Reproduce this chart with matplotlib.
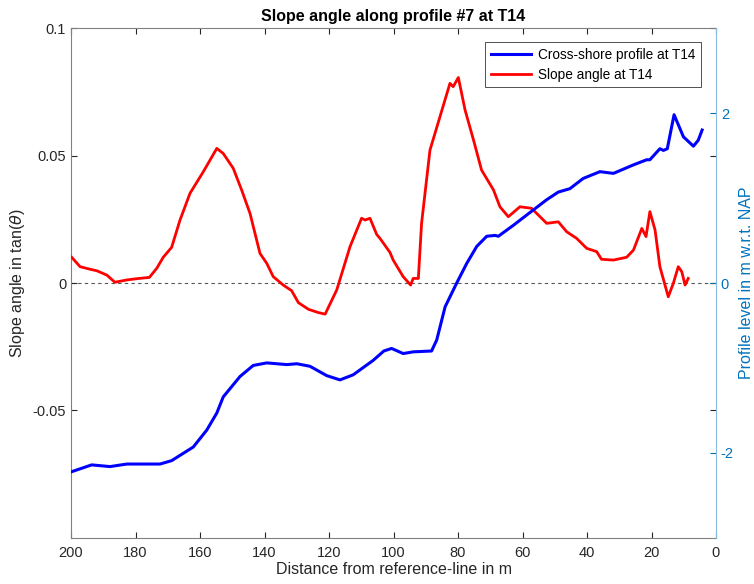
import matplotlib
matplotlib.use("Agg")
import matplotlib.pyplot as plt
import numpy as np

plt.rcParams['font.family'] = ['Liberation Sans', 'DejaVu Sans']
plt.rcParams['axes.unicode_minus'] = False

# Slope angle (left axis)
slope_x = [199.8, 197.2, 194.1, 192.0, 188.9, 186.4, 182.7, 179.6, 175.7, 173.4, 171.4, 168.8,
           166.2, 163.1, 159.0, 154.8, 152.8, 149.7, 147.1, 144.5, 141.4, 139.3, 137.3, 134.2,
           131.6, 129.5, 126.4, 123.3, 121.2, 117.6, 113.5, 109.9, 108.8, 107.3, 105.2, 104.2,
           101.1, 100.1, 97.0, 94.7, 93.9, 92.3, 91.3, 88.7, 85.6, 82.5, 81.5, 79.9, 77.8, 75.2,
           72.7, 69.0, 67.0, 64.4, 60.8, 57.2, 52.5, 48.9, 46.3, 43.2, 40.1, 37.0, 35.5, 31.8,
           27.7, 25.6, 23.0, 21.7, 20.5, 18.9, 17.4, 14.8, 13.2, 11.7, 10.6, 9.6, 8.6]
slope_y = [0.0101, 0.0064, 0.0054, 0.0048, 0.0031, 0.0003, 0.0012, 0.0017, 0.0022, 0.0058, 0.0101, 0.0140,
           0.0247, 0.0352, 0.0436, 0.0528, 0.0508, 0.0450, 0.0365, 0.0273, 0.0116, 0.0077, 0.0025, -0.0008,
           -0.0030, -0.0077, -0.0103, -0.0116, -0.0122, -0.0027, 0.0142, 0.0254, 0.0247, 0.0254, 0.0190, 0.0175,
           0.0120, 0.0090, 0.0025, -0.0008, 0.0018, 0.0018, 0.0234, 0.0521, 0.0652, 0.0783, 0.0770, 0.0806, 0.0678, 0.0561,
           0.0443, 0.0365, 0.0299, 0.0260, 0.0299, 0.0293, 0.0234, 0.0240, 0.0201, 0.0175, 0.0136, 0.0123, 0.0093, 0.0090,
           0.0101, 0.0129, 0.0214, 0.0182, 0.0280, 0.0208, 0.0064, -0.0054, 0.0000, 0.0064, 0.0044, -0.0008, 0.0018]

# Cross-shore profile (right axis)
prof_x = [199.8, 193.6, 187.9, 182.7, 172.4, 168.8, 162.1, 157.9, 154.8, 152.8, 147.6, 143.5, 139.3,
          133.1, 130.0, 125.9, 120.7, 116.6, 112.5, 106.3, 103.0, 100.6, 97.0, 93.9, 88.2, 86.6, 84.0,
          80.4, 77.3, 74.2, 71.1, 68.5, 67.5, 62.8, 58.7, 52.5, 48.9, 45.3, 41.2, 36.0, 31.8, 25.6,
          21.5, 20.5, 17.4, 16.3, 15.1, 13.0, 10.1, 7.0, 5.5, 4.3]
prof_y = [-2.22, -2.14, -2.16, -2.13, -2.13, -2.09, -1.93, -1.73, -1.53, -1.34, -1.10, -0.97, -0.94,
          -0.96, -0.95, -0.98, -1.09, -1.14, -1.08, -0.91, -0.80, -0.77, -0.83, -0.81, -0.80, -0.67, -0.28,
          0.00, 0.23, 0.43, 0.55, 0.56, 0.55, 0.68, 0.80, 0.98, 1.07, 1.11, 1.23, 1.31, 1.29, 1.39,
          1.45, 1.45, 1.58, 1.56, 1.58, 1.98, 1.72, 1.61, 1.68, 1.80]

x_ticks = [200, 180, 160, 140, 120, 100, 80, 60, 40, 20, 0]
left_ticks = [-0.05, 0, 0.05, 0.1]
left_ticklabels = ['-0.05', '0', '0.05', '0.1']
right_ticks = [-2, 0, 2]

dark = '#262626'
mblue = '#0072BD'

fig = plt.figure(figsize=(7.54, 5.84), dpi=100)
ax = fig.add_axes([0.0942, 0.0788, 0.8554, 0.8732])
ax2 = ax.twinx()

ax.plot(slope_x, slope_y, color='#FF0000', lw=2.0, label='Slope angle at T14', zorder=3)
ax.axhline(0, color='#555555', lw=0.8, ls=(0, (3, 3)), zorder=1)
ax2.plot(prof_x, prof_y, color='#0000FF', lw=2.2, label='Cross-shore profile at T14')

ax.set_xlim(200, 0)
ax.set_ylim(-0.1, 0.1)
ax2.set_ylim(-3, 3)

ax.set_xticks(x_ticks)
ax.set_yticks(left_ticks)
ax.set_yticklabels(left_ticklabels)
ax2.set_yticks(right_ticks)

ax.tick_params(axis='x', direction='in', top=True, colors=dark, labelsize=10.5, length=4, pad=6)
ax.tick_params(axis='y', direction='in', right=True, colors=dark, labelsize=10.5, length=4)
ax2.tick_params(axis='y', direction='in', colors=mblue, labelsize=10.5, length=4)

for s in ['left', 'top', 'bottom']:
    ax.spines[s].set_color('#808080')
ax2.spines['right'].set_color('#8ABBE0')
ax2.spines['left'].set_visible(False)
ax2.spines['top'].set_visible(False)
ax2.spines['bottom'].set_visible(False)
ax.spines['right'].set_visible(False)

ax.set_xlabel('Distance from reference-line in m', fontsize=11.5, color=dark, labelpad=1)
ax.set_ylabel(r'Slope angle in tan($\theta$)', fontsize=11.5, color=dark)
ax2.set_ylabel('Profile level in m w.r.t. NAP', fontsize=11.5, color=mblue)
ax2.yaxis.set_label_coords(1.036, 0.5)
ax.set_title('Slope angle along profile #7 at T14', fontsize=11.5, fontweight='bold', pad=5)

h1, l1 = ax2.get_legend_handles_labels()
h2, l2 = ax.get_legend_handles_labels()
leg = ax2.legend(h1 + h2, l1 + l2, loc='upper right', fontsize=9.8, fancybox=False,
                 edgecolor='#333333', framealpha=1, borderpad=0.4, handlelength=3.0,
                 handletextpad=0.5, bbox_to_anchor=(0.9767, 0.9725), borderaxespad=0,
                 labelspacing=0.45)
leg.get_frame().set_linewidth(0.6)

fig.savefig('out.png', dpi=100)
